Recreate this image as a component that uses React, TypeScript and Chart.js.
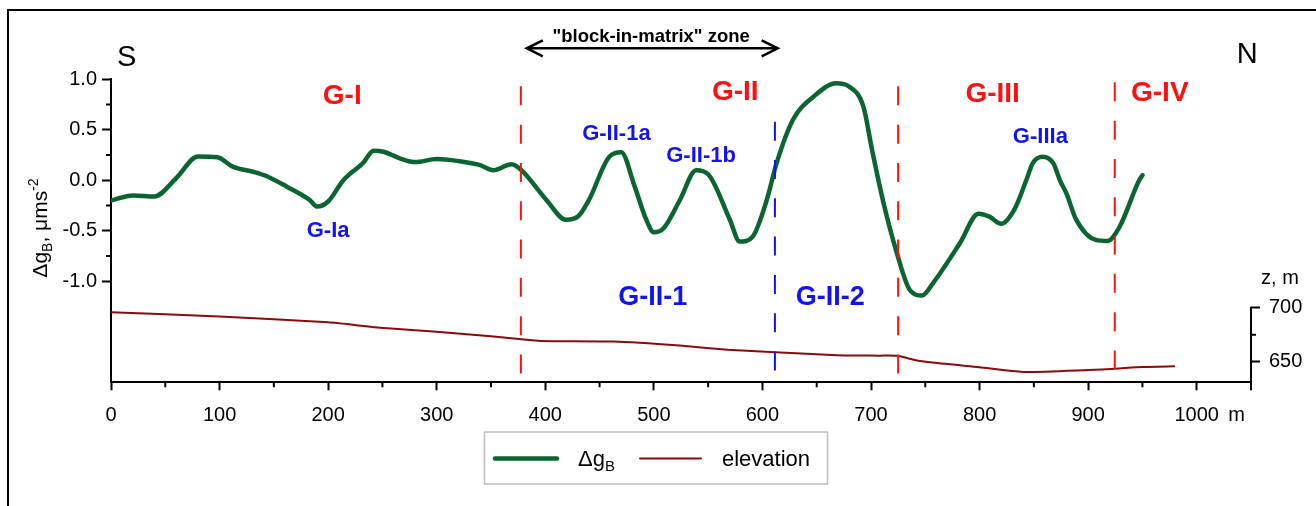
import React, { useEffect, useRef } from "react";
import { Chart, registerables } from "chart.js";

Chart.register(...registerables);

const FONT = '"Liberation Sans", Arial, Helvetica, sans-serif';

// ---- data ----
const gravityDistance = [
  0, 20, 40, 60, 80, 98, 112, 131, 143, 162, 183, 190, 200, 214, 232, 242, 251, 266, 280, 300,
  320, 340, 352, 369, 378, 401, 419, 430, 440, 459, 470, 482, 493, 500, 509, 524, 539, 550, 570,
  579, 591, 604, 613, 628, 647, 668, 680, 693, 701, 711, 723, 736, 747, 757, 782, 799, 809, 820,
  832, 843, 849, 858, 868, 874, 880, 889, 907, 918, 929, 947, 950,
];
const gravityValues = [
  -0.2, -0.15, -0.16, 0.02, 0.235, 0.228, 0.135, 0.085, 0.043, -0.063, -0.195, -0.26, -0.21, 0.0,
  0.17, 0.293, 0.283, 0.218, 0.18, 0.21, 0.19, 0.15, 0.1, 0.16, 0.1, -0.195, -0.39, -0.36, -0.2,
  0.234, 0.277, -0.05, -0.39, -0.515, -0.475, -0.195, 0.1, 0.06, -0.39, -0.607, -0.558, -0.195,
  0.168, 0.597, 0.828, 0.96, 0.927, 0.729, 0.3, -0.2, -0.69, -1.09, -1.14, -1.02, -0.62, -0.33,
  -0.36, -0.43, -0.29, 0.0, 0.17, 0.234, 0.168, 0.0, -0.13, -0.39, -0.59, -0.6, -0.46, 0.0, 0.05,
];
const elevationDistance = [
  0, 100, 200, 248, 300, 350, 378, 396, 463, 524, 568, 612, 669, 708, 724, 745, 800, 840, 900, 925,
  950, 980,
];
const elevationValues = [
  695.7, 691.9, 686.4, 681.5, 677.8, 673.5, 670.7, 669.2, 668.6, 664.9, 661.1, 658.7, 656.0, 655.6,
  655.4, 650.6, 644.8, 640.5, 642.3, 643.5, 645.0, 645.7,
];
const xMajorTicks = [0, 100, 200, 300, 400, 500, 600, 700, 800, 900, 1000];
const xMinorTicks = [50, 150, 250, 350, 450, 550, 650, 750, 850, 950];
const gMajorTicks = [-1, -0.5, 0, 0.5, 1];
const gMinorTicks = [-0.75, -0.25, 0.25, 0.75];
const zMajorTicks = [650, 700];
const zMinorTicks = [675];
const zoneBoundaries = [377.5, 725, 924.5];
const subzoneBoundaries = [611.5];
const zoneNames = ["G-I", "G-II", "G-III", "G-IV"];
const anomalyNames = ["G-Ia", "G-II-1a", "G-II-1b", "G-IIIa"];
const subzoneNames = ["G-II-1", "G-II-2"];
const legendNames = ["elevation"];

// ---- layout / styling of annotations ----
const GREEN = "#0b6531";
const ELEV = "#8c0a0a";
const RED = "#ff1010";
const BLUE = "#1212f5";

const zonePos = [
  { x: 213, y: 0.835 },
  { x: 575, y: 0.87 },
  { x: 812, y: 0.85 },
  { x: 966, y: 0.86 },
];
const anomalyPos = [
  { x: 200, y: -0.5 },
  { x: 465.5, y: 0.463 },
  { x: 543.5, y: 0.246 },
  { x: 856, y: 0.43 },
];
const subzonePos = [
  { x: 499, y: -1.16 },
  { x: 662.5, y: -1.16 },
];
const boundaryExtent = [
  { top: 0.93, bottom: -1.92 },
  { top: 0.93, bottom: -1.92 },
  { top: 0.97, bottom: -1.88 },
];
const subBoundaryExtent = [{ top: 0.58, bottom: -1.9 }];

const decor = {
  id: "decor",
  afterDatasetsDraw(chart: any) {
    const { ctx, scales } = chart;
    const x = scales.x;
    const y = scales.y;
    ctx.save();
    ctx.lineWidth = 2;
    ctx.setLineDash([19, 19.3]);
    zoneBoundaries.forEach((v, i) => {
      const px = x.getPixelForValue(v);
      ctx.strokeStyle = RED;
      ctx.beginPath();
      ctx.moveTo(px, y.getPixelForValue(boundaryExtent[i].top));
      ctx.lineTo(px, y.getPixelForValue(boundaryExtent[i].bottom));
      ctx.stroke();
    });
    subzoneBoundaries.forEach((v, i) => {
      const px = x.getPixelForValue(v);
      ctx.strokeStyle = BLUE;
      ctx.beginPath();
      ctx.moveTo(px, y.getPixelForValue(subBoundaryExtent[i].top));
      ctx.lineTo(px, y.getPixelForValue(subBoundaryExtent[i].bottom));
      ctx.stroke();
    });
    ctx.restore();
  },
  afterDraw(chart: any) {
    const { ctx, chartArea: ca, scales } = chart;
    const x = scales.x;
    const y = scales.y;
    const y2 = scales.y2;
    ctx.save();
    ctx.setLineDash([]);

    // outer frame
    ctx.strokeStyle = "#000";
    ctx.lineWidth = 2;
    ctx.beginPath();
    ctx.moveTo(8, 700);
    ctx.lineTo(8, 10);
    ctx.lineTo(1500, 10);
    ctx.stroke();

    // minor ticks + right axis line
    ctx.lineWidth = 2;
    ctx.beginPath();
    xMinorTicks.forEach((v) => {
      const px = x.getPixelForValue(v);
      ctx.moveTo(px, ca.bottom);
      ctx.lineTo(px, ca.bottom + 5);
    });
    gMinorTicks.forEach((v) => {
      const py = y.getPixelForValue(v);
      ctx.moveTo(ca.left - 5, py);
      ctx.lineTo(ca.left, py);
    });
    zMinorTicks.forEach((v) => {
      const py = y2.getPixelForValue(v);
      ctx.moveTo(ca.right, py);
      ctx.lineTo(ca.right + 5, py);
    });
    ctx.moveTo(ca.right, y2.getPixelForValue(700) - 1);
    ctx.lineTo(ca.right, ca.bottom + 8);
    ctx.stroke();

    ctx.textAlign = "center";
    ctx.textBaseline = "middle";
    // zone labels
    ctx.fillStyle = RED;
    ctx.font = `bold 28px ${FONT}`;
    zoneNames.forEach((t, i) => {
      ctx.fillText(t, x.getPixelForValue(zonePos[i].x), y.getPixelForValue(zonePos[i].y));
    });
    ctx.fillStyle = BLUE;
    ctx.font = `bold 22px ${FONT}`;
    anomalyNames.forEach((t, i) => {
      ctx.fillText(t, x.getPixelForValue(anomalyPos[i].x), y.getPixelForValue(anomalyPos[i].y));
    });
    ctx.font = `bold 27px ${FONT}`;
    subzoneNames.forEach((t, i) => {
      ctx.fillText(t, x.getPixelForValue(subzonePos[i].x), y.getPixelForValue(subzonePos[i].y));
    });

    // S / N
    ctx.fillStyle = "#000";
    ctx.font = `29px ${FONT}`;
    ctx.fillText("S", x.getPixelForValue(14.5), y.getPixelForValue(1.215));
    ctx.fillText("N", x.getPixelForValue(1046.5), y.getPixelForValue(1.245));

    // block-in-matrix arrow
    ctx.font = `bold 18.5px ${FONT}`;
    ctx.fillText('"block-in-matrix" zone', x.getPixelForValue(497.5), y.getPixelForValue(1.42));
    const ax1 = x.getPixelForValue(383);
    const ax2 = x.getPixelForValue(614);
    const ay = y.getPixelForValue(1.307);
    ctx.lineWidth = 2.6;
    ctx.strokeStyle = "#000";
    ctx.beginPath();
    ctx.moveTo(ax1, ay);
    ctx.lineTo(ax2, ay);
    ctx.moveTo(ax1 + 16, ay - 8);
    ctx.lineTo(ax1, ay);
    ctx.lineTo(ax1 + 16, ay + 8);
    ctx.moveTo(ax2 - 16, ay - 8);
    ctx.lineTo(ax2, ay);
    ctx.lineTo(ax2 - 16, ay + 8);
    ctx.stroke();

    // right axis title and x unit
    ctx.font = `20px ${FONT}`;
    ctx.fillText("z, m", ca.right + 29, y2.getPixelForValue(727.5));
    ctx.textAlign = "left";
    ctx.fillText("m", x.getPixelForValue(1029), ca.bottom + 33);

    // left axis title (rotated, with sub/superscript)
    const pieces = [
      { t: "\u0394g", s: 21, dy: 0 },
      { t: "B", s: 14, dy: 5 },
      { t: ", \u03bcms", s: 21, dy: 0 },
      { t: "-2", s: 14, dy: -9 },
    ];
    let total = 0;
    pieces.forEach((p) => {
      ctx.font = `${p.s}px ${FONT}`;
      total += ctx.measureText(p.t).width;
    });
    ctx.save();
    ctx.translate(47, 228 + total / 2);
    ctx.rotate(-Math.PI / 2);
    ctx.textBaseline = "alphabetic";
    ctx.textAlign = "left";
    let cx = 0;
    pieces.forEach((p) => {
      ctx.font = `${p.s}px ${FONT}`;
      ctx.fillText(p.t, cx, p.dy);
      cx += ctx.measureText(p.t).width;
    });
    ctx.restore();

    // legend
    ctx.strokeStyle = "#bdbdbd";
    ctx.lineWidth = 1.5;
    ctx.strokeRect(484.5, 432, 343, 52);
    ctx.lineCap = "round";
    ctx.strokeStyle = GREEN;
    ctx.lineWidth = 4.5;
    ctx.beginPath();
    ctx.moveTo(495, 458.5);
    ctx.lineTo(557, 458.5);
    ctx.stroke();
    ctx.strokeStyle = ELEV;
    ctx.lineWidth = 2;
    ctx.beginPath();
    ctx.moveTo(640, 458.5);
    ctx.lineTo(701, 458.5);
    ctx.stroke();
    ctx.fillStyle = "#000";
    ctx.textBaseline = "alphabetic";
    ctx.textAlign = "left";
    ctx.font = `22px ${FONT}`;
    ctx.fillText("\u0394g", 578, 466);
    const w = ctx.measureText("\u0394g").width;
    ctx.font = `15px ${FONT}`;
    ctx.fillText("B", 578 + w, 471);
    ctx.font = `22px ${FONT}`;
    ctx.fillText(legendNames[0], 722, 466);

    ctx.restore();
  },
};

export default function App() {
  const ref = useRef<HTMLCanvasElement>(null);

  useEffect(() => {
    const canvas = ref.current;
    if (!canvas) return;
    const tickFont = { family: FONT, size: 20 };
    const chart = new Chart(canvas, {
      type: "line",
      data: {
        datasets: [
          {
            label: "\u0394gB",
            data: gravityDistance.map((d, i) => ({ x: d, y: gravityValues[i] })),
            borderColor: GREEN,
            borderWidth: 4.5,
            pointRadius: 0,
            cubicInterpolationMode: "monotone",
            yAxisID: "y",
            borderCapStyle: "round",
            borderJoinStyle: "round",
          },
          {
            label: "elevation",
            data: elevationDistance.map((d, i) => ({ x: d, y: elevationValues[i] })),
            borderColor: ELEV,
            borderWidth: 2,
            pointRadius: 0,
            tension: 0.2,
            yAxisID: "y2",
          },
        ],
      },
      options: {
        animation: false,
        responsive: false,
        maintainAspectRatio: false,
        layout: { padding: { top: 79.3, left: 0, right: 0, bottom: 0 } },
        plugins: { legend: { display: false }, tooltip: { enabled: false } },
        scales: {
          x: {
            type: "linear",
            min: 0,
            max: 1050,
            afterBuildTicks: (s: any) => {
              s.ticks = xMajorTicks.map((v) => ({ value: v }));
            },
            afterFit: (s: any) => {
              s.height = 123.7;
            },
            ticks: {
              font: tickFont,
              color: "#000",
              padding: 13,
              maxRotation: 0,
              autoSkip: false,
              callback: (v: any) => String(v),
            },
            grid: { drawOnChartArea: false, drawTicks: true, tickLength: 8, tickColor: "#000", tickWidth: 2 },
            border: { display: true, color: "#000", width: 2 },
          },
          y: {
            type: "linear",
            position: "left",
            min: -2,
            max: 1,
            afterBuildTicks: (s: any) => {
              s.ticks = gMajorTicks.map((v) => ({ value: v }));
            },
            afterFit: (s: any) => {
              s.width = 111;
            },
            ticks: {
              font: { family: FONT, size: 20 },
              color: "#000",
              padding: 5,
              autoSkip: false,
              callback: (v: any) => Number(v).toFixed(1),
            },
            grid: { drawOnChartArea: false, drawTicks: true, tickLength: 9, tickColor: "#000", tickWidth: 2 },
            border: { display: true, color: "#000", width: 2 },
          },
          y2: {
            type: "linear",
            position: "right",
            min: 630.9,
            max: 911.5,
            afterBuildTicks: (s: any) => {
              s.ticks = zMajorTicks.map((v) => ({ value: v }));
            },
            afterFit: (s: any) => {
              s.width = 65;
            },
            ticks: {
              font: tickFont,
              color: "#000",
              padding: 9,
              autoSkip: false,
              callback: (v: any) => String(v),
            },
            grid: { drawOnChartArea: false, drawTicks: true, tickLength: 9, tickColor: "#000", tickWidth: 2 },
            border: { display: false },
          },
        },
      } as any,
      plugins: [decor],
    });
    return () => chart.destroy();
  }, []);

  return (
    <div style={{ position: "fixed", left: 0, top: 0, width: 1316, height: 506, background: "#fff" }}>
      <canvas ref={ref} width={1316} height={506} style={{ display: "block", width: 1316, height: 506 }} />
    </div>
  );
}
